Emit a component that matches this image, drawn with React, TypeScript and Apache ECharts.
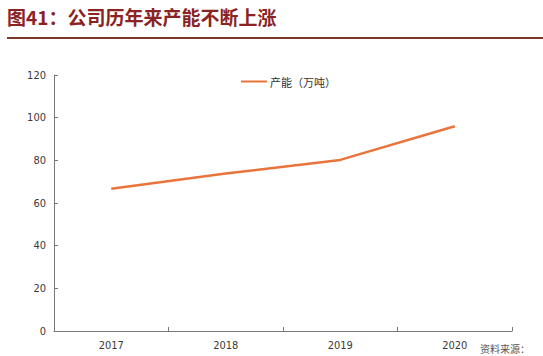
import React, { useEffect, useRef } from "react";
import * as echarts from "echarts";

const categories = ["2017", "2018", "2019", "2020"];
const capacity = [66.7, 73.8, 80.2, 96];
const seriesName = "产能（万吨）";
const titleText = "图41：公司历年来产能不断上涨";
const sourceText = "资料来源：";

export default function App() {
  const ref = useRef<HTMLDivElement>(null);
  useEffect(() => {
    if (!ref.current) return;
    const chart = echarts.init(ref.current, null, { renderer: "svg" });
    const axisFont = "'Liberation Sans Narrow', 'DejaVu Sans Condensed', 'Arial Narrow', sans-serif";
    chart.setOption({
      animation: false,
      backgroundColor: "#ffffff",
      grid: { left: 54, right: 31, top: 75, bottom: 25 },
      legend: {
        data: [seriesName],
        left: 236,
        top: 71,
        itemWidth: 26,
        itemHeight: 12,
        itemGap: 4,
        icon: "path://M0,5 L26,5 L26,7 L0,7 Z",
        textStyle: { fontSize: 11, color: "#333", fontFamily: "'Noto Sans CJK SC', sans-serif", padding: [0, 0, 0, -2] },
      },
      graphic: [
        {
          type: "text",
          left: 7,
          top: 7,
          style: {
            text: titleText,
            font: "bold 19px 'Noto Sans CJK SC', sans-serif",
            fill: "#8b2325",
          },
        },
        {
          type: "rect",
          shape: { x: 7, y: 37, width: 536, height: 2 },
          style: { fill: "#7d3a2a" },
        },
        {
          type: "text",
          left: 480,
          top: 343,
          style: {
            text: sourceText,
            font: "10px 'Noto Sans CJK SC', sans-serif",
            fill: "#555",
          },
        },
      ],
      xAxis: {
        type: "category",
        data: categories,
        boundaryGap: true,
        axisLine: { lineStyle: { color: "#777", width: 1 } },
        axisTick: { show: true, inside: true, length: 4, alignWithLabel: false, lineStyle: { color: "#777" } },
        axisLabel: { color: "#3a3a3a", fontSize: 11, fontFamily: axisFont, margin: 9 },
        splitLine: { show: false },
      },
      yAxis: {
        type: "value",
        min: 0,
        max: 120,
        interval: 20,
        axisLine: { show: true, lineStyle: { color: "#777", width: 1 } },
        axisTick: { show: true, inside: true, length: 4, lineStyle: { color: "#777" } },
        axisLabel: { color: "#3a3a3a", fontSize: 11, fontFamily: axisFont, margin: 8 },
        splitLine: { show: false },
      },
      series: [
        {
          name: seriesName,
          type: "line",
          data: capacity,
          showSymbol: false,
          symbol: "none",
          smooth: false,
          lineStyle: { color: "#e8743b", width: 2.5 },
          itemStyle: { color: "#e8743b" },
        },
      ],
    });
    return () => chart.dispose();
  }, []);
  return <div ref={ref} style={{ width: 543, height: 356, position: "absolute", left: 0, top: 0 }} />;
}
